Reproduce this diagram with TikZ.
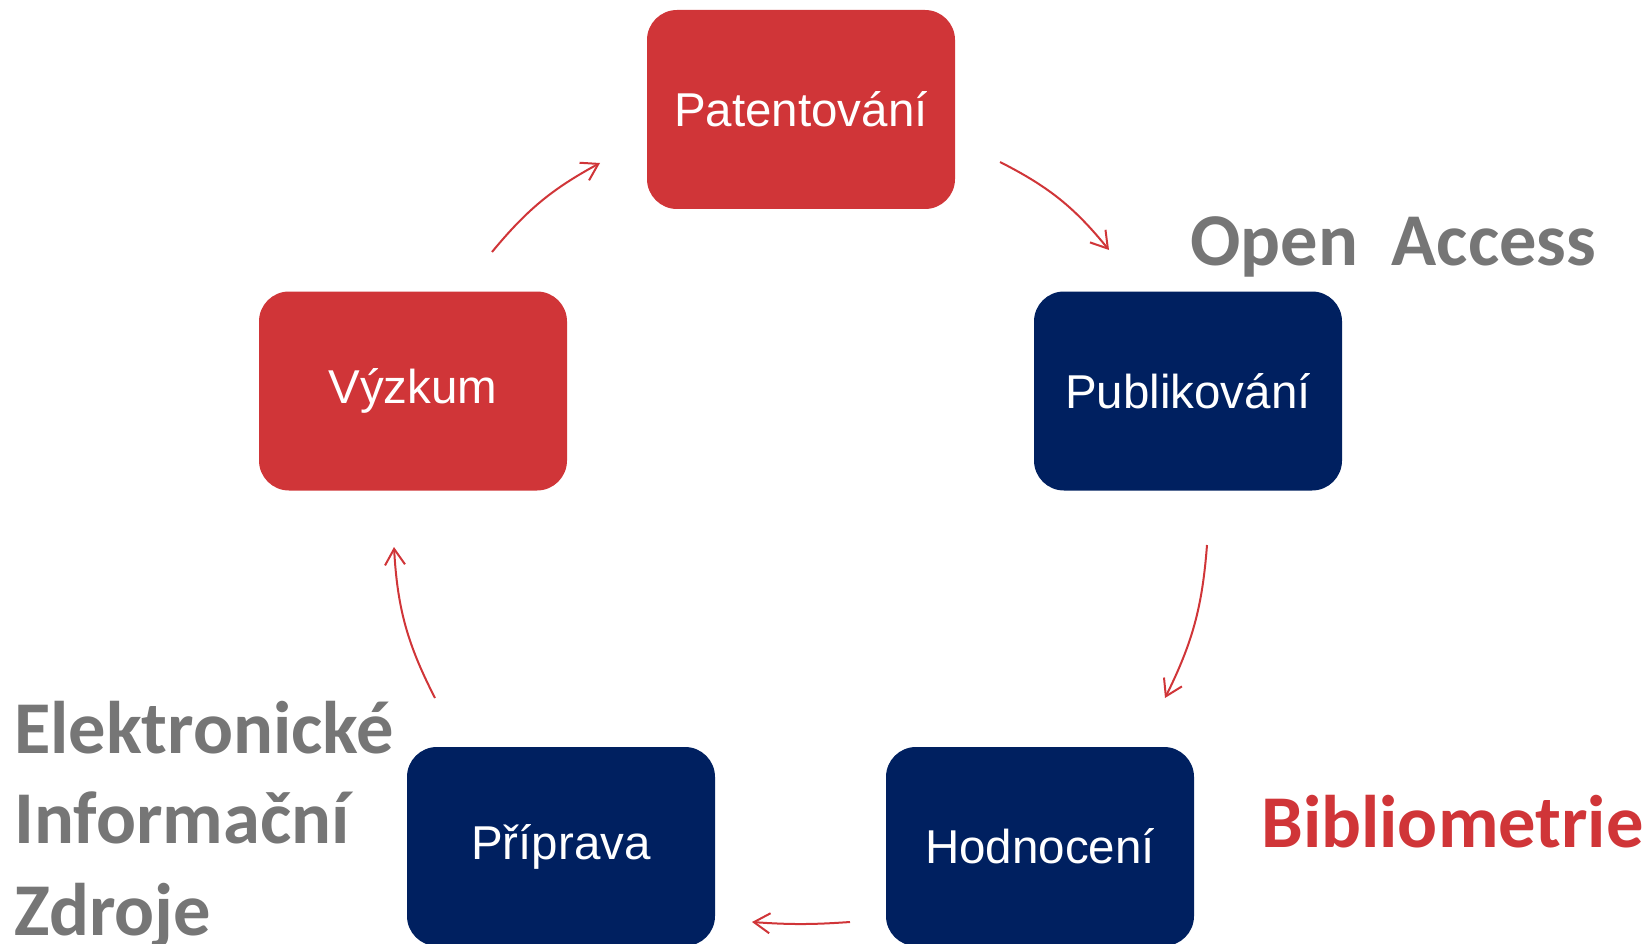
\documentclass[tikz,border=0pt]{standalone}
\usepackage{fontspec}
\newfontfamily\boxfont{Liberation Sans}
\newfontfamily\labfont{Carlito}
\usetikzlibrary{arrows.meta}
\definecolor{cred}{RGB}{208,53,56}
\definecolor{cnavy}{RGB}{0,32,96}
\definecolor{cgray}{RGB}{118,118,118}
\tikzset{
  stepbox/.style={rounded corners=30pt, minimum width=308pt, minimum height=199pt,
    inner sep=0pt, text=white, font=\boxfont\fontsize{47.5}{56}\selectfont},
  redbox/.style={stepbox, fill=cred},
  bluebox/.style={stepbox, fill=cnavy},
  cyc/.style={draw=cred, line width=2pt,
    -{Straight Barb[length=16pt,width=20pt,line width=2pt]}},
  lab/.style={anchor=base west, inner sep=0pt,
    font=\labfont\bfseries\fontsize{74.5}{91}\selectfont}
}
\begin{document}
\begin{tikzpicture}[x=1pt,y=1pt]
\useasboundingbox (0,0) rectangle (1646,-944);
\node[redbox]  (pat) at (801,-109.5) {Patentování};
\node[redbox]  (vyz) at (413,-391) {Výzkum};
\node[bluebox] (pub) at (1188,-391) {Publikování};
\node[bluebox] (pri) at (561,-846.5) {Příprava};
\node[bluebox] (hod) at (1040,-846.5) {Hodnocení};

\coordinate (a1s) at (492,-252);  \coordinate (a1e) at (600,-163);
\coordinate (a2s) at (1000,-162); \coordinate (a2e) at (1109,-250);
\coordinate (a3s) at (1207,-545); \coordinate (a3e) at (1165,-698);
\coordinate (a4s) at (850,-922);  \coordinate (a4e) at (752,-922);
\coordinate (a5s) at (435,-698);  \coordinate (a5e) at (394,-547);

\draw[cyc] (a1s) to[bend left=11] (a1e);
\draw[cyc] (a2s) to[bend left=12] (a2e);
\draw[cyc] (a3s) to[bend left=11] (a3e);
\draw[cyc] (a4s) to[bend left=4] (a4e);
\draw[cyc] (a5s) to[bend left=12] (a5e);

\node[lab, text=cgray] (oa) at (1190,-265) {Open\ \ Access};
\node[lab, text=cred] (bib) at (1261,-847) {Bibliometrie};
\node[lab, text=cgray] (el1) at (14,-753) {Elektronické};
\node[lab, text=cgray] (el2) at (14,-843) {Informační};
\node[lab, text=cgray] (el3) at (14,-935) {Zdroje};
\end{tikzpicture}
\end{document}
